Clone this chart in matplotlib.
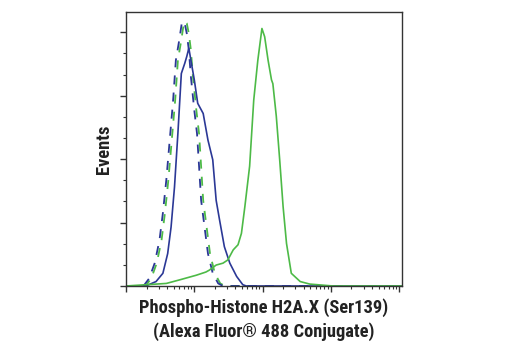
import numpy as np
import matplotlib
matplotlib.use("Agg")
import matplotlib.pyplot as plt
from matplotlib import font_manager as fm
from matplotlib.ticker import LogLocator, MultipleLocator, NullFormatter

# log10 fluorescence intensity and event counts (arbitrary units)
green_x = [0.0, 0.59, 0.78, 1.03, 1.17, 1.22, 1.32, 1.42, 1.49, 1.57, 1.64, 1.69, 1.74, 1.81, 1.87,
           1.93, 1.99, 2.03, 2.08, 2.13, 2.15, 2.20, 2.25, 2.30, 2.35, 2.42, 2.55, 2.69, 3.03, 4.04]
green_y = [0.0, 0.04, 0.095, 0.17, 0.22, 0.25, 0.33, 0.36, 0.41, 0.57, 0.65, 0.83, 1.25, 1.89, 2.93,
           3.56, 4.06, 3.93, 3.56, 3.25, 3.19, 2.68, 1.99, 1.25, 0.67, 0.20, 0.07, 0.03, 0.0, 0.0]

blue_x = [0.0, 0.29, 0.44, 0.54, 0.61, 0.66, 0.71, 0.76, 0.81, 0.86, 0.89, 0.92, 0.95, 1.00, 1.05,
          1.13, 1.20, 1.27, 1.32, 1.37, 1.44, 1.52, 1.62, 1.71, 1.76, 4.04]
blue_y = [0.0, 0.0, 0.07, 0.20, 0.51, 0.93, 1.56, 2.41, 3.35, 3.51, 3.62, 3.75, 3.56, 3.25, 2.88,
          2.72, 2.30, 1.99, 1.35, 1.04, 0.62, 0.36, 0.15, 0.02, 0.0, 0.0]

iso_blue_x = [0.0, 0.25, 0.27, 0.34, 0.42, 0.49, 0.54, 0.59, 0.64, 0.69, 0.73, 0.78, 0.82, 0.86, 0.89,
              0.92, 0.95, 1.00, 1.04, 1.07, 1.10, 1.15, 1.20, 1.27, 1.35, 1.42, 4.04]
iso_blue_y = [0.0, 0.0, 0.02, 0.12, 0.36, 0.72, 1.15, 1.67, 2.30, 2.93, 3.56, 3.88, 4.17, 4.14, 3.98,
              3.72, 3.30, 2.77, 2.40, 1.88, 1.35, 0.93, 0.51, 0.20, 0.04, 0.0, 0.0]

iso_green_x = [0.0, 0.28, 0.30, 0.37, 0.45, 0.52, 0.57, 0.62, 0.67, 0.72, 0.76, 0.81, 0.85, 0.89, 0.92,
               0.95, 0.98, 1.03, 1.07, 1.10, 1.13, 1.18, 1.23, 1.30, 1.38, 1.45, 4.04]
iso_green_y = [0.0, 0.0, 0.02, 0.12, 0.36, 0.72, 1.15, 1.67, 2.30, 2.93, 3.56, 3.88, 4.17, 4.14, 3.98,
               3.72, 3.30, 2.77, 2.40, 1.88, 1.35, 0.93, 0.51, 0.20, 0.04, 0.0, 0.0]

xlabel = "Phospho-Histone H2A.X (Ser139)\n(Alexa Fluor\u00ae 488 Conjugate)"
ylabel = "Events"

BLUE = "#2b3896"
GREEN = "#4dba47"

# choose a condensed bold face if one is installed
names = {f.name for f in fm.fontManager.ttflist}
cond = None
for cand in ["Liberation Sans Narrow", "DejaVu Sans Condensed", "Roboto Condensed",
             "Open Sans Condensed", "Noto Sans Condensed"]:
    if cand in names:
        cond = cand
        break
if cond is None:
    for f in fm.fontManager.ttflist:
        if "condensed" in str(f.stretch).lower() or "narrow" in f.name.lower():
            cond = f.name
            break
if cond is not None:
    font = [cond, "DejaVu Sans"]
    fsize = 13.3
    stretch = "condensed"
else:
    font = ["Liberation Sans", "DejaVu Sans"]
    fsize = 11
    stretch = "normal"

fig = plt.figure(figsize=(5.2, 3.5), dpi=100)
ax = fig.add_axes([0.2423, 0.1829, 0.5307, 0.7828])

p = lambda v: 10 ** np.asarray(v)
ax.plot(p(iso_green_x), iso_green_y, color=GREEN, lw=1.3, dashes=(5, 4.5), dash_capstyle="butt")
ax.plot(p(iso_blue_x), iso_blue_y, color=BLUE, lw=1.3, dashes=(5, 4.5), dash_capstyle="butt")
ax.plot(p(blue_x), blue_y, color=BLUE, lw=1.2)
ax.plot(p(green_x), green_y, color=GREEN, lw=1.2)

ax.set_xscale("log")
ax.set_xlim(1, 10 ** 4.04)
ax.set_ylim(0, 4.32)
ax.xaxis.set_major_locator(LogLocator(base=10, numticks=10))
ax.xaxis.set_minor_locator(LogLocator(base=10, subs=np.arange(2, 10), numticks=10))
ax.xaxis.set_major_formatter(NullFormatter())
ax.xaxis.set_minor_formatter(NullFormatter())
ax.yaxis.set_major_locator(MultipleLocator(1))
ax.yaxis.set_minor_locator(MultipleLocator(1 / 3))
ax.yaxis.set_major_formatter(NullFormatter())

for s in ax.spines.values():
    s.set_color("#333333")
    s.set_linewidth(1.0)
ax.tick_params(which="major", length=4.5, width=1.0, color="#333333", direction="out")
ax.tick_params(which="minor", length=2.5, width=0.8, color="#333333", direction="out")

ax.set_xlabel(xlabel, family=font, fontweight="bold", fontsize=fsize, fontstretch=stretch,
              color="#222222", linespacing=1.35, labelpad=1)
ax.set_ylabel(ylabel, family=font, fontweight="bold", fontsize=fsize, fontstretch=stretch,
              color="#222222", labelpad=1)

fig.savefig("out.png", dpi=100)
